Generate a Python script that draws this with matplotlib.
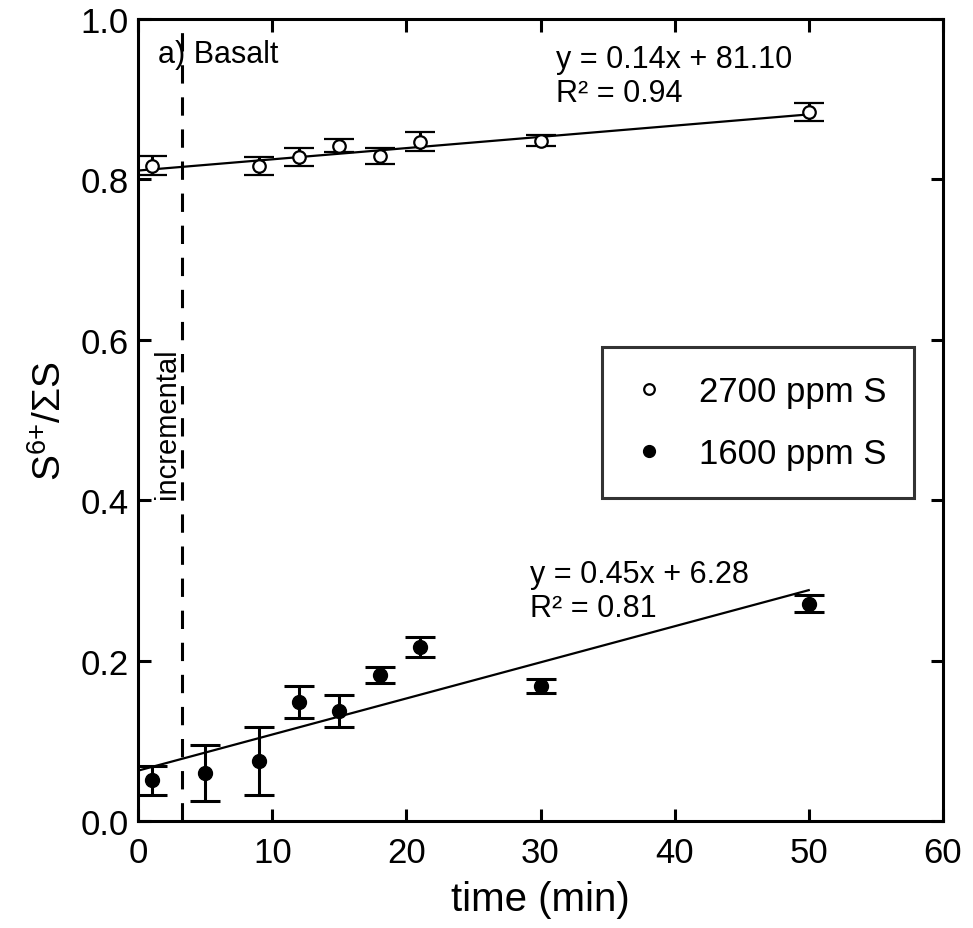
import numpy as np
import matplotlib
matplotlib.use("Agg")
import matplotlib.pyplot as plt

time_min = [1, 9, 12, 15, 18, 21, 30, 50]
s6_2700 = [0.817, 0.817, 0.828, 0.842, 0.829, 0.847, 0.848, 0.884]
err_2700 = [0.012, 0.011, 0.011, 0.008, 0.010, 0.012, 0.007, 0.011]

time_1600 = [1, 5, 9, 12, 15, 18, 21, 30, 50]
s6_1600 = [0.051, 0.060, 0.075, 0.148, 0.137, 0.182, 0.217, 0.168, 0.271]
err_1600 = [0.018, 0.035, 0.042, 0.020, 0.020, 0.010, 0.013, 0.009, 0.011]

# fits given in percent
slope_2700, icpt_2700 = 0.14, 81.10
slope_1600, icpt_1600 = 0.45, 6.28
r2_2700, r2_1600 = 0.94, 0.81
fit_x = [0, 50]
incremental_t = 3.3

plt.rcParams['font.family'] = ['Liberation Sans', 'DejaVu Sans']
plt.rcParams['mathtext.fontset'] = 'custom'
plt.rcParams['mathtext.rm'] = 'Liberation Sans'

fig = plt.figure(figsize=(9.73, 9.29), dpi=100)
ax = fig.add_axes([0.142, 0.1152, 0.827, 0.8633])

fx = np.array(fit_x, dtype=float)
ax.plot(fx, (icpt_2700 + slope_2700 * fx) / 100, color='k', lw=1.6, zorder=2)
ax.plot(fx, (icpt_1600 + slope_1600 * fx) / 100, color='k', lw=1.6, zorder=2)

ax.errorbar(time_min, s6_2700, yerr=err_2700, fmt='o', mfc='white', mec='k',
            mew=1.6, ms=9, ecolor='k', elinewidth=2.2, capsize=11, capthick=2.2,
            label='2700 ppm S', zorder=3)
ax.errorbar(time_1600, s6_1600, yerr=err_1600, fmt='o', mfc='k', mec='k',
            ms=10, ecolor='k', elinewidth=2.2, capsize=11, capthick=2.2,
            label='1600 ppm S', zorder=3)

ax.axvline(incremental_t, color='k', lw=2.2, ls=(0, (6, 4.5)), zorder=1)

ax.set_xlim(0, 60)
ax.set_ylim(0, 1.0)
ax.set_xticks([0, 10, 20, 30, 40, 50, 60])
ax.set_yticks([0.0, 0.2, 0.4, 0.6, 0.8, 1.0])
ax.set_yticklabels(['0.0', '0.2', '0.4', '0.6', '0.8', '1.0'])
ax.tick_params(direction='in', length=9, width=2.2, labelsize=25,
               top=True, right=True)
ax.tick_params(axis='x', pad=11)
ax.tick_params(axis='y', pad=7)
for sp in ax.spines.values():
    sp.set_linewidth(2.2)

ax.set_xlabel('time (min)', fontsize=29, labelpad=8)
ax.set_ylabel('S$^{6{+}}$/ΣS', fontsize=28, labelpad=8)

ax.text(1.5, 0.946, 'a) Basalt', fontsize=22, va='baseline')
ax.text(2.16, 0.497, 'incremental', fontsize=21, rotation=90,
        ha='center', va='center')

ax.text(31.15, 0.940, f'y = {slope_2700:.2f}x + {icpt_2700:.2f}', fontsize=22, va='baseline')
ax.text(31.15, 0.898, f'R² = {r2_2700:.2f}', fontsize=22, va='baseline')
ax.text(29.2, 0.298, f'y = {slope_1600:.2f}x + {icpt_1600:.2f}', fontsize=22, va='baseline')
ax.text(29.2, 0.256, f'R² = {r2_1600:.2f}', fontsize=22, va='baseline')

h, l = ax.get_legend_handles_labels()
h = [x[0] for x in h]
leg = ax.legend(h, l, loc='upper left', bbox_to_anchor=(0.576, 0.591),
                fontsize=25, frameon=True, fancybox=False, edgecolor='k',
                borderpad=0.8, labelspacing=0.85, handletextpad=0.9,
                borderaxespad=0, markerscale=0.85, handlelength=1.1)
leg.get_frame().set_linewidth(2.2)

fig.savefig('out.png', dpi=100)
